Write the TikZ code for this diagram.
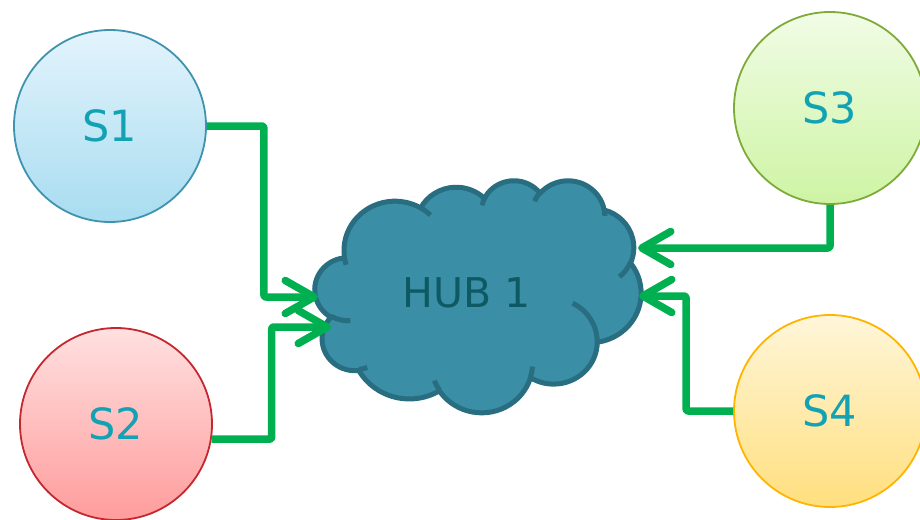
\documentclass[tikz,border=0pt]{standalone}
\usepackage{fontspec}
\setmainfont{DejaVu Sans}
\usetikzlibrary{arrows.meta}
\definecolor{cgreen}{HTML}{00B050}
\definecolor{hubfill}{HTML}{3A8FA6}
\definecolor{hubline}{HTML}{286E80}
\definecolor{hubtext}{HTML}{0E5A64}
\definecolor{stext}{HTML}{12A2B4}
\definecolor{sAline}{HTML}{3F93AE}\definecolor{sAtop}{HTML}{E3F4FC}\definecolor{sAbot}{HTML}{A8DCF0}
\definecolor{sBline}{HTML}{C4282E}\definecolor{sBtop}{HTML}{FFE0E0}\definecolor{sBbot}{HTML}{FF9C9C}
\definecolor{sCline}{HTML}{7EAA3A}\definecolor{sCtop}{HTML}{F1FCE6}\definecolor{sCbot}{HTML}{CEF4A4}
\definecolor{sDline}{HTML}{FFB400}\definecolor{sDtop}{HTML}{FFF6DA}\definecolor{sDbot}{HTML}{FFDF7E}
\newcommand\cldang[4]{%
  \pgfmathsetmacro\cldA{atan2((#1)*sin(#3),(#2)*cos(#3))}%
  \pgfmathsetmacro\cldB{atan2((#1)*sin((#3)+(#4)),(#2)*cos((#3)+(#4)))}%
  \pgfmathsetmacro\cldD{mod(\cldB-\cldA+720,360)}%
  \global\let\cldA\cldA\global\let\cldD\cldD}
\newcommand\cldarc[4]{\pgfextra{\cldang{#1}{#2}{#3}{#4}} arc[x radius=#1, y radius=#2, start angle=\cldA, delta angle=\cldD]}
\tikzset{
  station/.style={circle, minimum size=192pt, inner sep=0pt, line width=1.8pt, text=stext,
    font=\fontsize{43}{43}\selectfont},
  conn/.style={draw=cgreen, line width=7.5pt, line join=round, rounded corners=2pt,
    -{Straight Barb[length=29pt, width=33pt, line cap=round, line join=round]}},
  cloudshape/.style={fill=hubfill, draw=hubline, line width=5pt, line join=round},
  cloudline/.style={draw=hubline, line width=5pt},
}
\begin{document}
\begin{tikzpicture}[x=1pt, y=-1pt]
\useasboundingbox (0,0) rectangle (920,519);
% stations
\node[station, draw=sAline, top color=sAtop, bottom color=sAbot] (s1) at (110,126) {S1};
\node[station, draw=sBline, top color=sBtop, bottom color=sBbot] (s2) at (116,424) {S2};
\node[station, draw=sCline, top color=sCtop, bottom color=sCbot] (s3) at (830,108) {S3};
\node[station, draw=sDline, top color=sDtop, bottom color=sDbot] (s4) at (830,411) {S4};
% cloud
\begin{scope}[shift={(315,180)}, x=0.75463pt, y=-0.53704pt]
\draw[cloudshape] (39.00,143.70)
  \cldarc{67.53}{91.90}{-190.4875}{123.7805}
  \cldarc{53.33}{72.67}{-144.1024}{89.9452}
  \cldarc{43.65}{59.45}{-145.8079}{99.7230}
  \cldarc{48.57}{65.95}{-130.9861}{117.2417}
  \cldarc{53.33}{72.73}{-78.7089}{109.0269}
  \cldarc{67.75}{92.20}{-46.2673}{130.2690}
  \cldarc{57.85}{78.67}{0.6250}{114.0333}
  \cldarc{67.52}{92.15}{22.4516}{115.1726}
  \cldarc{77.20}{105.43}{66.2426}{75.7110}
  \cldarc{43.60}{59.18}{-274.9421}{146.7356}
  \cldarc{43.45}{59.45}{-246.8285}{152.5189}
  -- cycle;
\draw[cloudline]
  (46.93,261.77) \cldarc{43.45}{59.45}{86.7420}{26.4295}
  (69.28,348.99) \cldarc{43.60}{59.18}{73.6105}{11.4475}
  (164.78,390.90) \cldarc{67.52}{92.15}{137.6242}{14.0811}
  (288.27,347.51) \cldarc{67.52}{92.15}{6.4533}{15.9984}
  (341.29,229.54) \cldarc{57.85}{78.67}{-70.2924}{70.9174}
  (417.98,153.54) \cldarc{53.33}{72.73}{30.3180}{27.7515}
  (383.24,54.26) \cldarc{48.57}{65.95}{-13.7443}{14.8589}
  (290.78,39.52) \cldarc{48.57}{65.95}{-149.1815}{18.1954}
  (221.41,47.20) \cldarc{43.65}{59.45}{-163.4943}{17.6864}
  (140.00,51.92) \cldarc{67.53}{91.90}{-66.7070}{12.3194}
  (41.27,157.89) \cldarc{67.53}{91.90}{157.6544}{11.8582};
\end{scope}
\node[text=hubtext, font=\fontsize{41}{41}\selectfont, inner sep=0pt] (hub) at (467,293) {HUB 1};
% connector ends at the cloud
\coordinate (h1) at (318,297);
\coordinate (h2) at (331,327);
\coordinate (h3) at (638,248);
\coordinate (h4) at (639,296);
% connectors
\draw[conn] (s1.east) -- ++(57,0) |- (h1);
\draw[conn] (s2.-9) -- ++(60,0) |- (h2);
\draw[conn] (s3.south) |- (h3);
\draw[conn] (s4.west) -- ++(-47,0) |- (h4);
\end{tikzpicture}
\end{document}
